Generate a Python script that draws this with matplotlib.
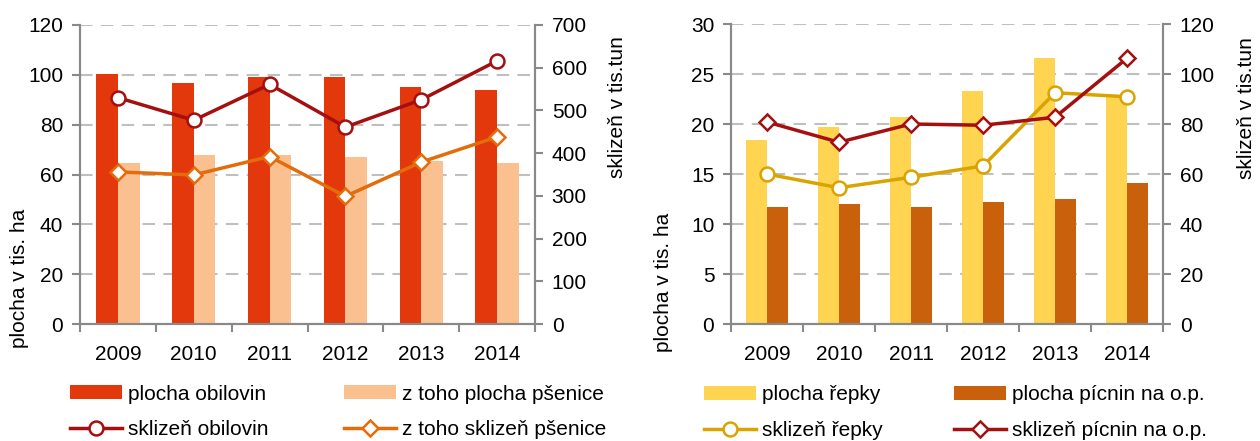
import numpy as np
import matplotlib.pyplot as plt

plt.rcParams['font.family'] = ['Liberation Sans', 'DejaVu Sans']
plt.rcParams['font.size'] = 15

# --- data ---
years = ['2009', '2010', '2011', '2012', '2013', '2014']

plocha_obilovin = [100.3, 96.9, 99.2, 99.2, 95.3, 93.8]
plocha_psenice = [64.7, 67.8, 67.8, 67.2, 65.5, 64.7]
sklizen_obilovin = [530, 477, 561, 461, 525, 616]
sklizen_psenice = [356, 349, 392, 299, 379, 438]

plocha_repky = [18.4, 19.7, 20.7, 23.3, 26.6, 22.7]
plocha_picnin = [11.7, 12.0, 11.7, 12.2, 12.5, 14.1]
sklizen_repky = [60.0, 54.5, 58.7, 63.2, 92.5, 90.9]
sklizen_picnin = [80.8, 72.7, 80.0, 79.5, 82.7, 106.3]

GRID = '#bfbfbf'
SPINE = '#898989'

fig = plt.figure(figsize=(12.6, 4.41), dpi=100)
ax1 = fig.add_axes([80/1260, 1-324/441, 455/1260, 299/441])
ax2 = fig.add_axes([731/1260, 1-324/441, 432/1260, 300/441])

x = np.arange(len(years))
w = 0.285


def style(ax, axr, ymax, ystep, rmax, rstep):
    ax.set_xlim(-0.5, len(years) - 0.5)
    ax.set_ylim(0, ymax)
    ax.set_yticks(np.arange(0, ymax + 0.1, ystep))
    axr.set_ylim(0, rmax)
    axr.set_yticks(np.arange(0, rmax + 0.1, rstep))
    ax.set_axisbelow(True)
    ax.grid(axis='y', color=GRID, linestyle=(0, (6, 4)), linewidth=1.5)
    # ticks on category boundaries, year labels in the middle
    ax.set_xticks(np.arange(-0.5, len(years), 1.0))
    ax.set_xticklabels([])
    ax.set_xticks(x, minor=True)
    ax.set_xticklabels(years, minor=True)
    ax.tick_params(axis='x', which='minor', length=0, pad=15)
    ax.tick_params(axis='x', which='major', length=6, color=SPINE, width=1.5)
    for a in (ax, axr):
        a.spines['top'].set_visible(False)
        for s in ('left', 'right', 'bottom'):
            a.spines[s].set_color(SPINE)
            a.spines[s].set_linewidth(1.5)
        a.tick_params(axis='y', length=6, color=SPINE, width=1.5, pad=6)


leg_kw = dict(ncol=2, loc='center left', frameon=False, fontsize=15,
              handlelength=2.5, handleheight=0.65, handletextpad=0.3,
              labelspacing=0.8, borderpad=0.3)

# ---- left chart: obiloviny ----
ax1r = ax1.twinx()
b1 = ax1.bar(x - w/2, plocha_obilovin, w, color='#e2380b', label='plocha obilovin')
b2 = ax1.bar(x + w/2, plocha_psenice, w, color='#fac090', label='z toho plocha pšenice')
l1, = ax1r.plot(x, sklizen_obilovin, color='#a50f0f', lw=2.5, marker='o', ms=10,
                mfc='white', mec='#a50f0f', mew=1.8, label='sklizeň obilovin')
l2, = ax1r.plot(x, sklizen_psenice, color='#e46c0a', lw=2.5, marker='D', ms=8,
                mfc='white', mec='#e46c0a', mew=1.8, label='z toho sklizeň pšenice')
style(ax1, ax1r, 120, 20, 700, 100)
ax1.set_ylabel('plocha v tis. ha')
ax1.yaxis.set_label_coords((29-80)/455, 0.154)
ax1r.set_ylabel('sklizeň v tis.tun')
ax1r.yaxis.set_label_coords((608-80)/455, 0.726)

fig.legend([b1, l1, b2, l2], [h.get_label() for h in (b1, l1, b2, l2)],
           bbox_to_anchor=(53/1260, 0.066), columnspacing=3.6, **leg_kw)

# ---- right chart: řepka, pícniny ----
ax2r = ax2.twinx()
b3 = ax2.bar(x - w/2, plocha_repky, w, color='#ffd450', label='plocha řepky')
b4 = ax2.bar(x + w/2, plocha_picnin, w, color='#c8600c', label='plocha pícnin na o.p.')
l3, = ax2r.plot(x, sklizen_repky, color='#d9a400', lw=2.5, marker='o', ms=10,
                mfc='white', mec='#d9a400', mew=1.8, label='sklizeň řepky')
l4, = ax2r.plot(x, sklizen_picnin, color='#a50f0f', lw=2.5, marker='D', ms=8,
                mfc='white', mec='#a50f0f', mew=1.8, label='sklizeň pícnin na o.p.')
style(ax2, ax2r, 30, 5, 120, 20)
ax2.set_ylabel('plocha v tis. ha')
ax2.yaxis.set_label_coords((673-731)/432, 0.14)
ax2r.set_ylabel('sklizeň v tis.tun')
ax2r.yaxis.set_label_coords((1237-731)/432, 0.72)

fig.legend([b3, l3, b4, l4], [h.get_label() for h in (b3, l3, b4, l4)],
           bbox_to_anchor=(687/1260, 0.064), columnspacing=3.4, **leg_kw)

fig.savefig('out.png', dpi=100)
